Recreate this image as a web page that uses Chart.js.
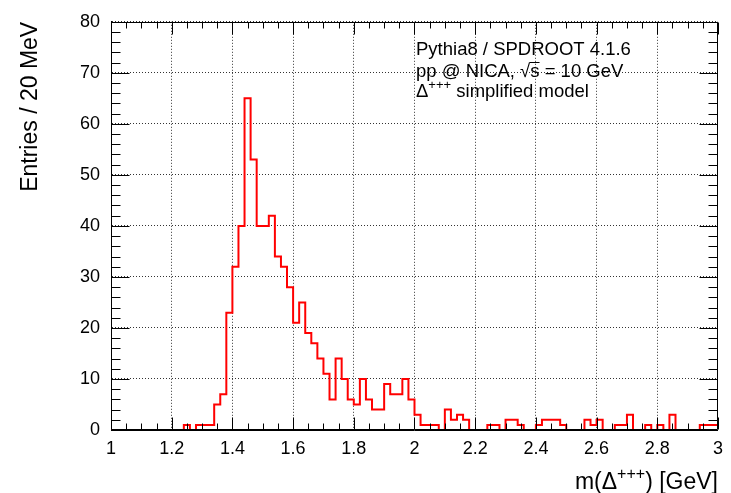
<!DOCTYPE html>
<html>
<head>
<meta charset="utf-8">
<script src="https://cdn.jsdelivr.net/npm/chart.js@4.4.1/dist/chart.umd.min.js"></script>
<style>
    html, body { margin: 0; padding: 0; background: #fff; }
</style>
</head>
<body>
<canvas id="massChart" width="731" height="493"></canvas>
<script>
// m(Delta+++) histogram, 100 bins of 20 MeV between 1 and 3 GeV
const xMin = 1.0;
const xMax = 3.0;
const counts = [
    0, 0, 0, 0, 0, 0, 0, 0, 0, 0,
    0, 0, 1, 0, 1, 1, 1, 5, 7, 23,
    32, 40, 65, 53, 40, 40, 42, 34, 32, 28,
    21, 25, 19, 17, 14, 11, 6, 14, 10, 6,
    5, 10, 6, 4, 4, 9, 7, 7, 10, 6,
    3, 1, 1, 1, 0, 4, 2, 3, 2, 0,
    0, 0, 1, 1, 0, 2, 2, 1, 0, 0,
    1, 2, 2, 2, 1, 0, 0, 0, 2, 1,
    2, 0, 0, 1, 1, 3, 0, 0, 1, 0,
    1, 0, 3, 0, 0, 0, 0, 1, 1, 1
];
const xTickStep = 0.2;
const yTicks = [0, 10, 20, 30, 40, 50, 60, 70, 80];
const infoLines = ["Pythia8 / SPDROOT 4.1.6", "pp @ NICA, ", "simplified model"];

const FONT = '"Liberation Sans", Arial, sans-serif';

// bin edges -> stepped outline points
const binWidth = (xMax - xMin) / counts.length;
const outline = counts.map(function (c, i) {
    return { x: xMin + i * binWidth, y: c };
});
outline.push({ x: xMax, y: counts[counts.length - 1] });

function fontOf(size) {
    return size + "px " + FONT;
}

// draws a row of text pieces, some raised (sup) or with an overline (over)
function drawRuns(ctx, runs, x, y, size, align) {
    let total = 0;
    runs.forEach(function (r) {
        ctx.font = fontOf(r.sup ? Math.round(size * 0.7) : size);
        r.w = ctx.measureText(r.t).width;
        total += r.w;
    });
    let cx = align === "right" ? x - total : x;
    runs.forEach(function (r) {
        ctx.font = fontOf(r.sup ? Math.round(size * 0.7) : size);
        ctx.fillText(r.t, cx, r.sup ? y - size * 0.42 : y);
        if (r.over) {
            ctx.beginPath();
            ctx.lineWidth = 1;
            ctx.moveTo(cx - 0.5, Math.round(y - size * 0.8) + 0.5);
            ctx.lineTo(cx + r.w, Math.round(y - size * 0.8) + 0.5);
            ctx.stroke();
        }
        cx += r.w;
    });
}

const frameTicks = {
    id: "frameTicks",
    afterDatasetsDraw: function (chart) {
        const ctx = chart.ctx;
        const a = chart.chartArea;
        const xs = chart.scales.x;
        const ys = chart.scales.y;
        const L = Math.round(a.left) + 0.5;
        const R = Math.round(a.right) - 0.5;
        const T = Math.round(a.top) + 0.5;
        const B = Math.round(a.bottom) - 0.5;
        ctx.save();
        ctx.strokeStyle = "#000";
        ctx.lineWidth = 1;
        ctx.beginPath();
        ctx.moveTo(L, T); ctx.lineTo(R, T); ctx.lineTo(R, B); ctx.lineTo(L, B); ctx.closePath();
        // x ticks: major every 0.2, minor every 0.05
        for (let k = 0; k <= 40; k++) {
            const px = Math.round(xs.getPixelForValue(xMin + k * 0.05)) + 0.5;
            const len = k % 4 === 0 ? 12 : 6;
            ctx.moveTo(px, B); ctx.lineTo(px, B - len);
            ctx.moveTo(px, T); ctx.lineTo(px, T + len);
        }
        // y ticks: major every 10, minor every 2
        for (let k = 0; k <= 40; k++) {
            const py = Math.round(ys.getPixelForValue(k * 2)) + 0.5;
            const len = k % 5 === 0 ? 18 : 9;
            ctx.moveTo(L, py); ctx.lineTo(L + len, py);
            ctx.moveTo(R, py); ctx.lineTo(R - len, py);
        }
        ctx.stroke();
        ctx.restore();
    },
    afterDraw: function (chart) {
        const ctx = chart.ctx;
        ctx.save();
        ctx.fillStyle = "#000";
        ctx.strokeStyle = "#000";
        ctx.textBaseline = "alphabetic";
        ctx.textAlign = "left";
        const size = 18.5;
        drawRuns(ctx, [{ t: infoLines[0] }], 416, 55, size, "left");
        drawRuns(ctx, [{ t: infoLines[1] }, { t: "\u221A" }, { t: "s", over: true }, { t: " = 10 GeV" }], 416, 77, size, "left");
        drawRuns(ctx, [{ t: "\u0394" }, { t: "+++", sup: true }, { t: " " + infoLines[2] }], 416, 97, size, "left");
        // x axis title
        drawRuns(ctx, [{ t: "m(\u0394" }, { t: "+++", sup: true }, { t: ") [GeV]" }], 718, 489, 23, "right");
        ctx.restore();
    }
};

new Chart(document.getElementById("massChart"), {
    type: "line",
    data: {
        datasets: [
            {
                data: outline,
                stepped: "before",
                borderColor: "#ff0000",
                borderWidth: 2,
                pointRadius: 0,
                fill: false,
            },
        ],
    },
    options: {
        responsive: false,
        animation: false,
        layout: {
            padding: { top: 15, right: 12, left: 0, bottom: 0 },
        },
        plugins: {
            legend: { display: false },
            tooltip: { enabled: false },
        },
        scales: {
            x: {
                type: "linear",
                min: xMin,
                max: xMax,
                afterFit: function (scale) { scale.height = 63; },
                grid: {
                    color: "rgba(0,0,0,0.8)",
                    lineWidth: 1,
                    drawTicks: false,
                },
                border: { display: true, color: "#000", width: 1, dash: [1, 2] },
                ticks: {
                    stepSize: xTickStep,
                    padding: 8,
                    color: "#000",
                    font: { family: FONT, size: 18 },
                    maxRotation: 0,
                    callback: function (v) { return String(Math.round(v * 10) / 10); },
                },
            },
            y: {
                min: yTicks[0],
                max: yTicks[yTicks.length - 1],
                afterFit: function (scale) { scale.width = 111; },
                grid: {
                    color: "rgba(0,0,0,0.8)",
                    lineWidth: 1,
                    drawTicks: false,
                },
                border: { display: true, color: "#000", width: 1, dash: [1, 2] },
                ticks: {
                    stepSize: yTicks[1] - yTicks[0],
                    padding: 11,
                    color: "#000",
                    font: { family: FONT, size: 18 },
                },
                title: {
                    display: true,
                    text: "Entries / 20 MeV",
                    align: "end",
                    color: "#000",
                    font: { family: FONT, size: 23 },
                    padding: { top: 17, bottom: 0 },
                },
            },
        },
    },
    plugins: [frameTicks],
});
</script>
</body>
</html>
